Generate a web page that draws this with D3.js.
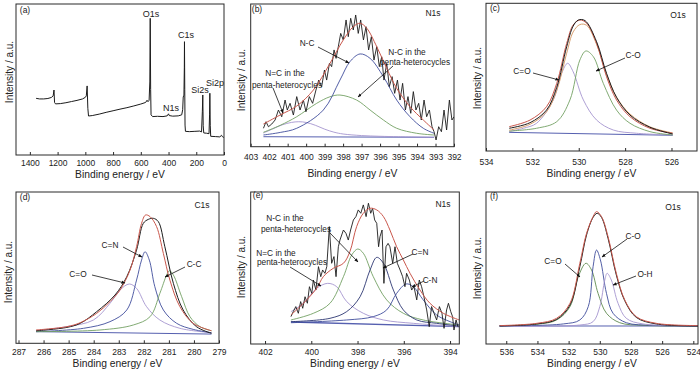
<!DOCTYPE html>
<html><head><meta charset="utf-8">
<script src="https://cdn.jsdelivr.net/npm/d3@7"></script>
<style>
body{margin:0;background:#fff;}
svg{display:block;font-family:"Liberation Sans",Arial,Helvetica,sans-serif;}
</style>
</head><body>
<svg id="chart" width="700" height="373"></svg>
<script>
// ---------------- DATA (binding energy eV, relative intensity) ----------------
const surveyA = [[1355,38.8],[1330,38.4],[1300,38.4],[1270,38.7],[1245,39.4],[1232,40.5],[1226,44.5],[1222,36.0],[1215,35.0],[1180,35.2],[1140,35.8],[1100,36.6],[1060,37.4],[1020,38.4],[1000,39.5],[993,40.5],[987,47.3],[982,32.0],[977,26.7],[950,27.0],[900,28.0],[850,29.2],[800,30.3],[750,31.4],[700,32.4],[650,33.6],[600,34.9],[565,36.0],[555,37.5],[548,36.5],[540,37.5],[535,50],[532,93.6],[529,45],[526,27.5],[515,26.3],[480,26.5],[440,26.3],[410,26.8],[400,28.2],[395,27.0],[370,26.6],[330,26.8],[305,27.5],[298,31],[294,39.7],[289,41],[286,60],[285,77.6],[283,45],[281,20.5],[278,16.2],[250,16.0],[210,16.2],[175,16.4],[162,15.8],[156,30],[153,41.1],[150,20],[146,15.1],[125,14.9],[108,14.6],[104,28],[102,42.3],[99,20],[96,12.8],[60,12.6],[30,12.4],[18,13.5],[12,12.6],[3,12.1],[0,12.1]];
const surveyLabels = ["O1s","C1s","N1s","Si2s","Si2p"];

const rawB = [[402.31,12.9],[402.17,17.5],[402.04,14.0],[401.86,15.9],[401.68,18.7],[401.50,25.7],[401.32,21.0],[401.14,32.7],[401.02,25.7],[400.87,30.4],[400.69,22.2],[400.51,35.1],[400.33,25.7],[400.15,32.7],[400.01,24.5],[399.83,35.1],[399.65,30.4],[399.47,39.7],[399.32,46.7],[399.16,42.1],[399.01,53.7],[398.89,46.7],[398.74,58.4],[398.62,56.1],[398.49,67.8],[398.38,61.9],[398.26,70.1],[398.13,79.4],[397.99,74.8],[397.84,88.8],[397.72,77.1],[397.59,90.0],[397.45,81.8],[397.32,92.3],[397.18,79.4],[397.05,88.8],[396.90,74.8],[396.76,84.1],[396.62,67.8],[396.47,77.1],[396.33,60.7],[396.18,70.1],[396.04,56.1],[395.91,63.0],[395.79,46.7],[395.64,58.4],[395.50,42.1],[395.35,49.1],[395.21,37.4],[395.06,46.7],[394.92,32.7],[394.78,44.4],[394.63,25.7],[394.49,35.1],[394.34,23.4],[394.20,38.6],[394.06,25.7],[393.91,30.4],[393.77,18.7],[393.62,32.7],[393.48,21.0],[393.33,25.7],[393.19,14.0],[393.08,10.5],[392.97,4.7],[392.83,14.0],[392.68,10.5],[392.54,25.7],[392.40,11.7],[392.25,32.7],[392.11,18.7],[392.00,21.0]];
const fitB = [[402.31,15.9],[401.41,22.2],[400.51,28.5],[399.61,39.7],[398.71,58.4],[397.99,74.8],[397.45,84.1],[397.08,86.5],[396.72,83.0],[396.18,70.1],[395.64,54.9],[395.10,40.9],[394.38,28.0],[393.66,18.7],[393.08,11.7]];
const baseB = [[402.31,7.0],[393.08,6.6]];
const nEqCPentaB = [[402.31,9.6],[401.8,12.5],[401.3,15.3],[400.8,17.0],[400.4,17.5],[400.0,17.0],[399.5,15.0],[399.0,12.3],[398.5,10.2],[398.0,8.9],[397.0,7.8],[396.0,7.3],[395.0,7.0],[393.08,6.6]];
const nCPentaB = [[402.31,10.1],[401.4,15.0],[400.51,21.0],[399.43,30.4],[398.71,35.0],[398.17,36.2],[397.27,32.7],[396.54,25.7],[395.82,18.7],[395.10,12.9],[394.02,9.4],[393.08,8.2]];
const nCB = [[402.31,8.2],[401.4,10.0],[400.51,12.9],[399.07,25.7],[398.17,46.7],[397.63,59.6],[397.08,65.0],[396.54,61.9],[395.82,49.1],[395.10,32.7],[394.38,21.0],[393.66,12.9],[393.08,9.4]];

const rawC = [[533,14.8],[532.1,18.6],[531.39,27.2],[530.95,42.7],[530.52,70.4],[530.24,84.5],[530.02,88.6],[529.73,88.2],[529.23,73.8],[528.8,52.2],[528.37,35.9],[527.79,23.8],[526.93,15.5],[525.95,10.9]];
const fitC = [[533,15.9],[532.10,20.4],[531.39,29.5],[530.95,45.4],[530.52,72.7],[530.24,85.2],[529.95,88.6],[529.66,86.4],[529.23,72.7],[528.80,49.9],[528.37,34.1],[527.79,22.7],[526.93,14.8],[525.95,11.4]];
const sumC = [[533,13.5],[532.10,17.5],[531.39,26.0],[530.95,40.5],[530.52,66.0],[530.24,80.5],[529.95,85.5],[529.66,85.0],[529.23,72.0],[528.80,51.5],[528.37,36.0],[527.79,24.5],[526.93,15.8],[525.95,11.6]];
const baseC = [[533,12.0],[525.95,10.0]];
const cEqOC = [[533,12.5],[532.39,14.8],[531.82,18.2],[531.10,34.1],[530.74,52.2],[530.48,59.1],[530.24,53.3],[529.80,34.1],[529.23,20.4],[528.51,13.6],[527.51,11.4],[525.95,10.2]];
const cOC = [[533,12.9],[531.82,14.8],[530.95,19.3],[530.38,34.1],[529.95,61.4],[529.69,67.5],[529.37,63.6],[528.94,45.4],[528.37,27.2],[527.79,18.2],[526.93,12.5],[525.95,10.2]];

const rawD = [[286.3,8.3],[285.07,10.5],[284.54,13.2],[283.88,20.9],[283.15,31.9],[282.68,44.0],[282.29,61.6],[282.02,79.3],[281.82,81.9],[281.62,82.6],[281.42,80.4],[281.16,63.8],[280.82,39.6],[280.43,22.0],[279.9,11.0],[279.3,6.6]];
const fitD = [[286.3,8.8],[285.07,11.0],[284.54,13.6],[283.88,19.8],[283.35,27.5],[282.95,35.2],[282.55,48.4],[282.29,63.8],[282.09,79.3],[281.93,84.8],[281.75,83.7],[281.49,77.1],[281.22,59.4],[280.96,41.8],[280.56,24.2],[280.03,13.2],[279.3,8.3]];
const baseD = [[286.3,7.7],[279.3,6.1]];
const cEqOD = [[286.3,8.3],[285.07,11.0],[284.01,15.4],[283.35,26.4],[282.95,35.2],[282.58,39.2],[282.29,36.3],[281.89,24.2],[281.36,15.4],[280.56,9.9],[279.3,7.0]];
const cEqND = [[286.3,7.7],[284.41,9.9],[283.35,14.3],[282.68,22.0],[282.29,41.8],[282.09,55.0],[281.95,60.5],[281.78,55.0],[281.56,37.4],[281.22,22.0],[280.69,13.2],[280.03,9.2],[279.3,7.0]];
const cCD = [[286.3,7.7],[283.75,8.8],[282.42,12.1],[281.75,17.6],[281.36,33.0],[281.09,45.1],[280.98,48.0],[280.82,45.1],[280.49,30.8],[280.16,17.6],[279.76,11.0],[279.3,8.3]];

const rawE = [[400.88,18.0],[400.78,21.3],[400.67,24.6],[400.56,20.2],[400.46,27.9],[400.37,23.5],[400.27,31.1],[400.17,26.8],[400.08,37.7],[399.98,33.3],[399.91,42.1],[399.80,35.5],[399.69,50.9],[399.59,44.3],[399.51,48.7],[399.41,46.5],[399.33,50.9],[399.22,77.2],[399.12,53.1],[399.02,57.5],[398.93,44.3],[398.83,64.0],[398.76,68.4],[398.61,75.0],[398.50,72.8],[398.40,68.4],[398.30,75.0],[398.18,81.6],[398.07,83.8],[397.97,88.2],[397.86,86.0],[397.75,91.5],[397.63,83.8],[397.53,92.6],[397.43,86.0],[397.35,89.3],[397.26,81.6],[397.17,79.4],[397.09,64.0],[397.03,70.6],[396.94,75.0],[396.86,39.9],[396.77,64.0],[396.68,66.2],[396.60,64.0],[396.48,53.1],[396.38,64.0],[396.28,53.1],[396.16,48.7],[396.05,44.3],[395.95,37.7],[395.88,46.5],[395.76,42.1],[395.66,35.5],[395.56,37.7],[395.44,29.0],[395.33,42.1],[395.23,37.7],[395.13,31.1],[395.01,22.4],[394.90,11.4],[394.80,24.6],[394.69,20.2],[394.58,15.8],[394.46,24.6],[394.35,20.2],[394.26,10.3],[394.15,22.4],[394.07,26.8],[393.97,21.3],[393.89,18.0],[393.83,9.2],[393.74,15.8],[393.66,11.4]];
const fitE = [[400.88,19.1],[400.34,26.8],[399.77,36.6],[399.48,44.3],[399.05,49.8],[398.61,53.1],[398.33,60.8],[398.04,77.2],[397.75,86.0],[397.46,89.3],[397.17,88.2],[396.88,83.8],[396.60,75.0],[396.31,64.0],[396.02,55.3],[395.73,46.5],[395.30,35.5],[394.87,26.8],[394.29,20.2],[393.6,15.8]];
const baseE = [[400.88,14.5],[393.6,11.4]];
const nEqCPentaE = [[400.88,21.3],[400.34,26.8],[399.77,36.6],[399.29,39.9],[398.90,37.7],[398.47,27.9],[397.75,20.2],[396.88,15.8],[395.59,13.6],[393.6,11.4]];
const nCPentaE = [[400.88,15.8],[399.91,20.2],[399.19,26.8],[398.61,44.3],[398.25,58.6],[397.99,62.5],[397.75,59.7],[397.32,44.3],[396.74,29.0],[396.02,20.2],[395.16,15.8],[393.6,12.5]];
const cEqNE = [[400.88,14.7],[399.19,16.9],[398.47,21.3],[397.89,31.1],[397.46,48.7],[397.17,57.0],[396.88,53.1],[396.45,35.5],[396.02,22.4],[395.44,15.8],[394.58,13.6],[393.6,11.8]];
const cNE = [[400.88,14.0],[398.47,15.8],[397.32,18.0],[396.74,22.4],[396.31,33.3],[395.90,39.5],[395.59,37.7],[395.16,29.0],[394.58,19.1],[394.0,14.7],[393.6,12.5]];

const rawF = [[536.43,11.85],[534.04,13.2],[532.77,16.2],[531.91,25.7],[531.28,50.9],[530.85,71.7],[530.43,83.3],[530.17,86.0],[529.89,83.3],[529.47,69.5],[528.94,45.4],[528.40,28.5],[527.66,17.5],[526.38,13.2],[523.62,11.85]];
const fitF = [[536.43,12.1],[534.04,13.6],[532.77,16.9],[531.91,26.8],[531.28,53.1],[530.85,72.8],[530.43,83.8],[530.21,87.1],[529.89,83.8],[529.47,70.6],[528.94,46.5],[528.40,29.0],[527.66,18.0],[526.38,13.6],[523.62,12.1]];
const baseF = [[536.43,11.85],[523.62,11.85]];
const cEqOF = [[536.43,11.85],[534.04,13.0],[532.77,15.8],[531.91,24.6],[531.38,44.3],[530.89,53.1],[530.53,48.7],[530.11,33.3],[529.57,20.2],[528.72,14.0],[527.23,12.3],[523.62,11.85]];
const cOF = [[536.43,11.85],[532.34,13.2],[531.28,15.8],[530.74,24.6],[530.43,50.9],[530.21,61.8],[529.96,55.3],[529.57,33.3],[529.15,20.2],[528.30,14.0],[526.60,12.3],[523.62,11.85]];
const oHF = [[536.43,11.85],[531.28,12.5],[530.43,14.7],[530.0,24.6],[529.68,42.1],[529.53,46.5],[529.26,42.1],[528.83,26.8],[528.30,16.9],[527.23,13.2],[523.62,12.1]];

const ticksA = [1400,1200,1000,800,600,400,200,0];
const ticksB = [403,402,401,400,399,398,397,396,395,394,393,392];
const ticksC = [534,532,530,528,526];
const ticksD = [287,286,285,284,283,282,281,280,279];
const ticksE = [402,400,398,396,394];
const ticksF = [536,534,532,530,528,526,524];

const xTitle = "Binding energy / eV";
const yTitle = "Intensity / a.u.";

// ---------------- STYLES ----------------
const col = {raw:"#1c1c1c", fit:"#c9574c", tan:"#d8a070", base:"#5660b0", blue:"#3f4d9c", navy:"#2b3572", green:"#73a063", lav:"#a595cf", olive:"#5f8a4f"};

// ---------------- LAYOUT ----------------
const panels = [
 {letter:"(a)", lp:[25,10], x:[16,224], y:[155,4], xd:[1500,0], yd:[0,103.4], ticks:ticksA, tickY:163, titleY:174.5, yt:[9,72],
  series:[{d:surveyA,c:col.raw,w:1,s:false}],
  labels:[{t:"O1s",x:151,y:13.5,fs:9},{t:"C1s",x:186,y:35,fs:9},{t:"N1s",x:171,y:108,fs:9},{t:"Si2s",x:200,y:90,fs:9},{t:"Si2p",x:215,y:83,fs:9}]},
 {letter:"(b)", lp:[257,9], x:[250.7,454], y:[146.7,4], xd:[403,392], yd:[0,100], ticks:ticksB, tickY:157, titleY:173.5, yt:[241,80],
  series:[{d:baseB,c:col.base,w:1,s:false},{d:nEqCPentaB,c:col.lav,w:0.9,s:true},{d:nCPentaB,c:col.green,w:0.9,s:true},{d:nCB,c:col.blue,w:0.9,s:true},{d:rawB,c:col.raw,w:0.9,s:false},{d:fitB,c:col.fit,w:1,s:true}],
  labels:[{t:"N1s",x:433,y:13,fs:8.5},{t:"N-C",x:307,y:43},{t:"N-C in the",x:407,y:52},{t:"penta-heterocycles",x:415,y:62},{t:"N=C in the",x:285,y:73},{t:"penta-heterocycles",x:287,y:85}],
  arrows:[[318,47,349,63],[393,66,358,97],[273,88,283,113]]},
 {letter:"(c)", lp:[495,8], x:[486,697], y:[151,3.3], xd:[534,524.9], yd:[-0.7,100], ticks:ticksC, tickY:162, titleY:173.5, yt:[477,78],
  series:[{d:baseC,c:col.base,w:1,s:false},{d:cEqOC,c:col.lav,w:0.9,s:true},{d:cOC,c:col.green,w:0.9,s:true},{d:sumC,c:col.tan,w:1,s:true},{d:fitC,c:col.fit,w:1,s:true},{d:rawC,c:col.raw,w:1,s:true}],
  labels:[{t:"O1s",x:678,y:15,fs:8.5},{t:"C=O",x:522,y:71},{t:"C-O",x:633,y:55}],
  arrows:[[533,73,559,80],[625,58,596,71]]},
 {letter:"(d)", lp:[25,197], x:[16,219], y:[343.3,192], xd:[287.1,279], yd:[0,100], ticks:ticksD, tickY:352.5, titleY:363.5, yt:[8,272],
  series:[{d:baseD,c:col.base,w:1,s:false},{d:cEqOD,c:col.lav,w:0.9,s:true},{d:cEqND,c:col.blue,w:0.9,s:true},{d:cCD,c:col.green,w:0.9,s:true},{d:rawD,c:col.raw,w:1,s:true},{d:fitD,c:col.fit,w:1,s:true}],
  labels:[{t:"C1s",x:202,y:205,fs:8.5},{t:"C=N",x:110,y:245},{t:"C-C",x:194,y:264},{t:"C=O",x:78,y:274}],
  arrows:[[123,247,142,257],[185,267,165,277],[92,275,125,283]]},
 {letter:"(e)", lp:[258,195], x:[250.7,459.3], y:[344,192], xd:[402.62,393.6], yd:[0,100], ticks:ticksE, tickY:352.5, titleY:363.5, yt:[241,267],
  series:[{d:baseE,c:col.base,w:1.4,s:false},{d:nEqCPentaE,c:col.lav,w:0.9,s:true},{d:nCPentaE,c:col.green,w:0.9,s:true},{d:cEqNE,c:col.navy,w:0.9,s:true},{d:cNE,c:col.blue,w:0.9,s:true},{d:rawE,c:col.raw,w:0.9,s:false},{d:fitE,c:col.fit,w:1,s:true}],
  labels:[{t:"N1s",x:443,y:204,fs:8.5},{t:"N-C in the",x:285,y:218},{t:"penta-heterocycles",x:296,y:229},{t:"N=C in the",x:276,y:253},{t:"penta-heterocycles",x:292,y:262},{t:"C=N",x:420,y:252},{t:"C-N",x:430,y:280}],
  arrows:[[330,233,358,262],[290,267,321,286],[413,254,383,268],[424,281,412,287]]},
 {letter:"(f)", lp:[494,196], x:[486,698], y:[344,192], xd:[537.3,523.7], yd:[0,100], ticks:ticksF, tickY:352.5, titleY:363.5, yt:[477,268],
  series:[{d:baseF,c:col.base,w:1,s:false},{d:cEqOF,c:col.olive,w:0.9,s:true},{d:cOF,c:col.blue,w:0.9,s:true},{d:oHF,c:col.lav,w:0.9,s:true},{d:rawF,c:col.raw,w:1,s:true},{d:fitF,c:col.fit,w:1,s:true}],
  labels:[{t:"O1s",x:673,y:207,fs:8.5},{t:"C-O",x:633,y:236},{t:"C=O",x:553,y:261},{t:"O-H",x:645,y:274}],
  arrows:[[627,239,602,257],[565,264,580,277],[636,276,613,285]]}
];

const svg = d3.select("#chart");
svg.append("rect").attr("width",700).attr("height",373).attr("fill","#fff");
const defs = svg.append("defs");
defs.append("marker").attr("id","ah").attr("viewBox","0 0 10 10").attr("refX",9).attr("refY",5)
  .attr("markerWidth",5).attr("markerHeight",5).attr("orient","auto")
  .append("path").attr("d","M0,1 L10,5 L0,9 Z").attr("fill","#111");

panels.forEach((p,i)=>{
  const xs = d3.scaleLinear().domain(p.xd).range(p.x);
  const ys = d3.scaleLinear().domain(p.yd).range(p.y);
  const g = svg.append("g");
  const cid = "clip"+i;
  defs.append("clipPath").attr("id",cid).append("rect")
    .attr("x",p.x[0]).attr("y",p.y[1]).attr("width",p.x[1]-p.x[0]).attr("height",p.y[0]-p.y[1]);
  const plot = g.append("g").attr("clip-path",`url(#${cid})`);
  p.series.forEach(s=>{
    const line = d3.line().x(d=>xs(d[0])).y(d=>ys(d[1]))
      .curve(s.s ? d3.curveCatmullRom.alpha(0.5) : d3.curveLinear);
    plot.append("path").attr("d",line(s.d)).attr("fill","none")
      .attr("stroke",s.c).attr("stroke-width",s.w).attr("stroke-linejoin","round");
  });
  g.append("rect").attr("x",p.x[0]).attr("y",p.y[1]).attr("width",p.x[1]-p.x[0]).attr("height",p.y[0]-p.y[1])
    .attr("fill","none").attr("stroke","#2a2a2a").attr("stroke-width",1);
  const ax = d3.axisBottom(xs).tickValues(p.ticks).tickSize(-3).tickFormat(d3.format("d"));
  const axg = g.append("g").attr("transform",`translate(0,${p.y[0]})`).call(ax);
  axg.select(".domain").remove();
  axg.selectAll(".tick line").attr("stroke","#2a2a2a");
  axg.selectAll(".tick text").attr("y",p.tickY-p.y[0]).attr("dy","0.35em")
    .attr("font-size","8.5px").attr("fill","#222").attr("font-family",'"Liberation Sans",Arial,sans-serif');
  g.append("text").attr("x",(p.x[0]+p.x[1])/2).attr("y",p.titleY).attr("dy","0.35em")
    .attr("text-anchor","middle").attr("font-size","10.3px").attr("fill","#222").text(xTitle);
  g.append("text").attr("transform",`translate(${p.yt[0]},${p.yt[1]}) rotate(-90)`).attr("dy","0.35em")
    .attr("text-anchor","middle").attr("font-size","10px").attr("fill","#222").text(yTitle);
  g.append("text").attr("x",p.lp[0]).attr("y",p.lp[1]).attr("dy","0.35em").attr("text-anchor","middle")
    .attr("font-size","8.5px").attr("fill","#222").text(p.letter);
  (p.labels||[]).forEach(l=>{
    g.append("text").attr("x",l.x).attr("y",l.y).attr("dy","0.35em").attr("text-anchor","middle")
      .attr("font-size",(l.fs||8.3)+"px").attr("fill","#222").text(l.t);
  });
  (p.arrows||[]).forEach(a=>{
    g.append("line").attr("x1",a[0]).attr("y1",a[1]).attr("x2",a[2]).attr("y2",a[3])
      .attr("stroke","#111").attr("stroke-width",0.8).attr("marker-end","url(#ah)");
  });
});
</script>
</body></html>
